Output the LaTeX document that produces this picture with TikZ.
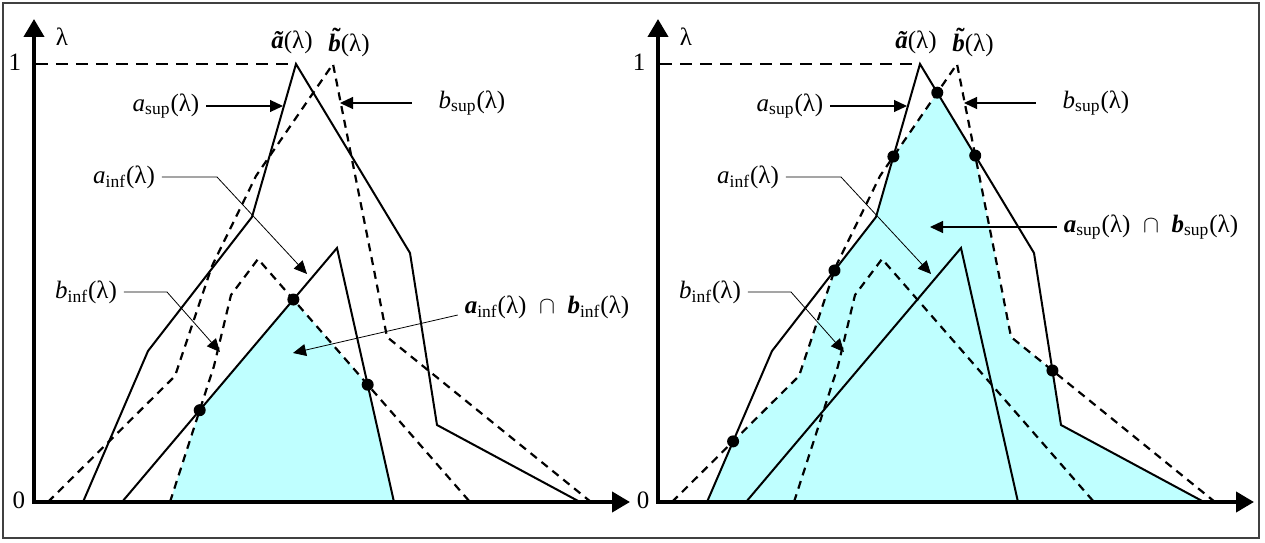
\documentclass[tikz,border=0pt]{standalone}
\usepackage{fontspec}
\setmainfont{Liberation Serif}
\usetikzlibrary{arrows.meta,intersections}
\definecolor{fillcyan}{HTML}{BFFFFF}
\tikzset{
  axis/.style      = {line width=2pt, line join=miter,
                      {Triangle[length=9pt,width=10pt]}-{Triangle[length=9pt,width=10pt]}},
  curve/.style     = {line width=1pt, line join=miter},
  dcurve/.style    = {curve, line width=1.1pt, dash pattern=on 4pt off 3pt},
  levelline/.style = {line width=0.6pt, dash pattern=on 6pt off 4pt},
  pointer/.style   = {line width=0.6pt, -{Triangle[length=6.5pt,width=6pt]}},
  thinptr/.style   = {pointer, line width=0.4pt},
  toplab/.style    = {inner sep=1pt},
}
\newcommand{\lab}[2]{\textit{#1}\textsubscript{#2}(λ)}
\newcommand{\blab}[2]{\textbf{\textit{#1}}\textsubscript{#2}(λ)}
\newcommand{\tildeb}{\setbox0\hbox{\bfseries\itshape b}%
  \rlap{\hbox to \wd0{\hss\kern0.15em\raisebox{0.24em}{\bfseries\char"02DC}\hss}}\box0}
\newcommand{\curveasup}{(49,0) -- (114,151) -- (218,285) -- (262,438) -- (376,249) -- (403,77) -- (546,0)}
\newcommand{\curvebsup}{(14,0) -- (141,126) -- (178,236) -- (222,326) -- (299,438) -- (340,232) -- (353,165) -- (557,0)}
\newcommand{\curveainf}{(88,0) -- (303,254) -- (360,0)}
\newcommand{\curvebinf}{(136,0) -- (180,136) -- (197,207) -- (224,243) -- (436,0)}

\begin{document}
\begin{tikzpicture}[x=0.5pt,y=0.5pt,font=\fontsize{12.5}{15}\selectfont]
\useasboundingbox (-34,-40) rectangle (1231,502);
\draw[line width=1pt,black!75] (-31,-36) rectangle (1225,499);
\begin{scope}
  \clip \curveainf -- cycle;
  \fill[fillcyan] \curvebinf -- cycle;
\end{scope}
\begin{scope}[shift={(624,0)}]
  \clip \curveasup -- cycle;
  \fill[fillcyan] \curvebsup -- cycle;
\end{scope}
\foreach \dx/\p in {0/l,624/r}{
\begin{scope}[shift={(\dx,0)}]
  \draw[levelline] (2,438) -- (262,438);
  \draw[curve] \curveasup;
  \draw[curve] \curveainf;
  \draw[dcurve] \curvebsup;
  \draw[dcurve] \curvebinf;
  \draw[axis] (0,483) -- (0,0) -- (596,0);
  \node (lam-\p) at (28,465) {λ};
  \node (one-\p) at (-19,440) {1};
  \node (zero-\p) at (-15,2) {0};
  \node[toplab] (at-\p) at (258,460) {{\bfseries\itshape ã}(λ)};
  \node[toplab] (bt-\p) at (315,460) {\tildeb(λ)};
  \node (asup-\p) at (132,396) {\lab{a}{sup}};
  \node (bsup-\p) at (438,399) {\lab{b}{sup}};
  \node (ainf-\p) at (90,325) {\lab{a}{inf}};
  \node (binf-\p) at (52,210) {\lab{b}{inf}};
  \draw[pointer] (asup-\p.east) -- (249,396);
  \draw[pointer] ([xshift=-10pt]bsup-\p.west) -- (306,399);
  \draw[thinptr] (ainf-\p.east) -- (183,325) -- (273,228);
  \draw[thinptr] (binf-\p.east) -- (133,210) -- (186,150);
\end{scope}}
% left: a_inf and b_inf
\node (abinf) at (513,195) {\blab{a}{inf}\enspace$\cap$\enspace\blab{b}{inf}};
\draw[thinptr] ([yshift=-4pt]abinf.west) -- (259,149);
\path[name path=ai] \curveainf;
\path[name path=bi] \curvebinf;
\fill[name intersections={of=ai and bi,total=\t}]
  \foreach \k in {1,...,\t}{(intersection-\k) circle (3pt)};
% right: a_sup and b_sup
\begin{scope}[shift={(624,0)}]
  \node (absup) at (493,275) {\blab{a}{sup}\enspace$\cap$\enspace\blab{b}{sup}};
  \draw[pointer] (absup.west) -- (272,275);
  \path[name path=as] \curveasup;
  \path[name path=bs] \curvebsup;
  \fill[name intersections={of=as and bs,total=\t}]
    \foreach \k in {1,...,\t}{(intersection-\k) circle (3pt)};
\end{scope}
\end{tikzpicture}
\end{document}
